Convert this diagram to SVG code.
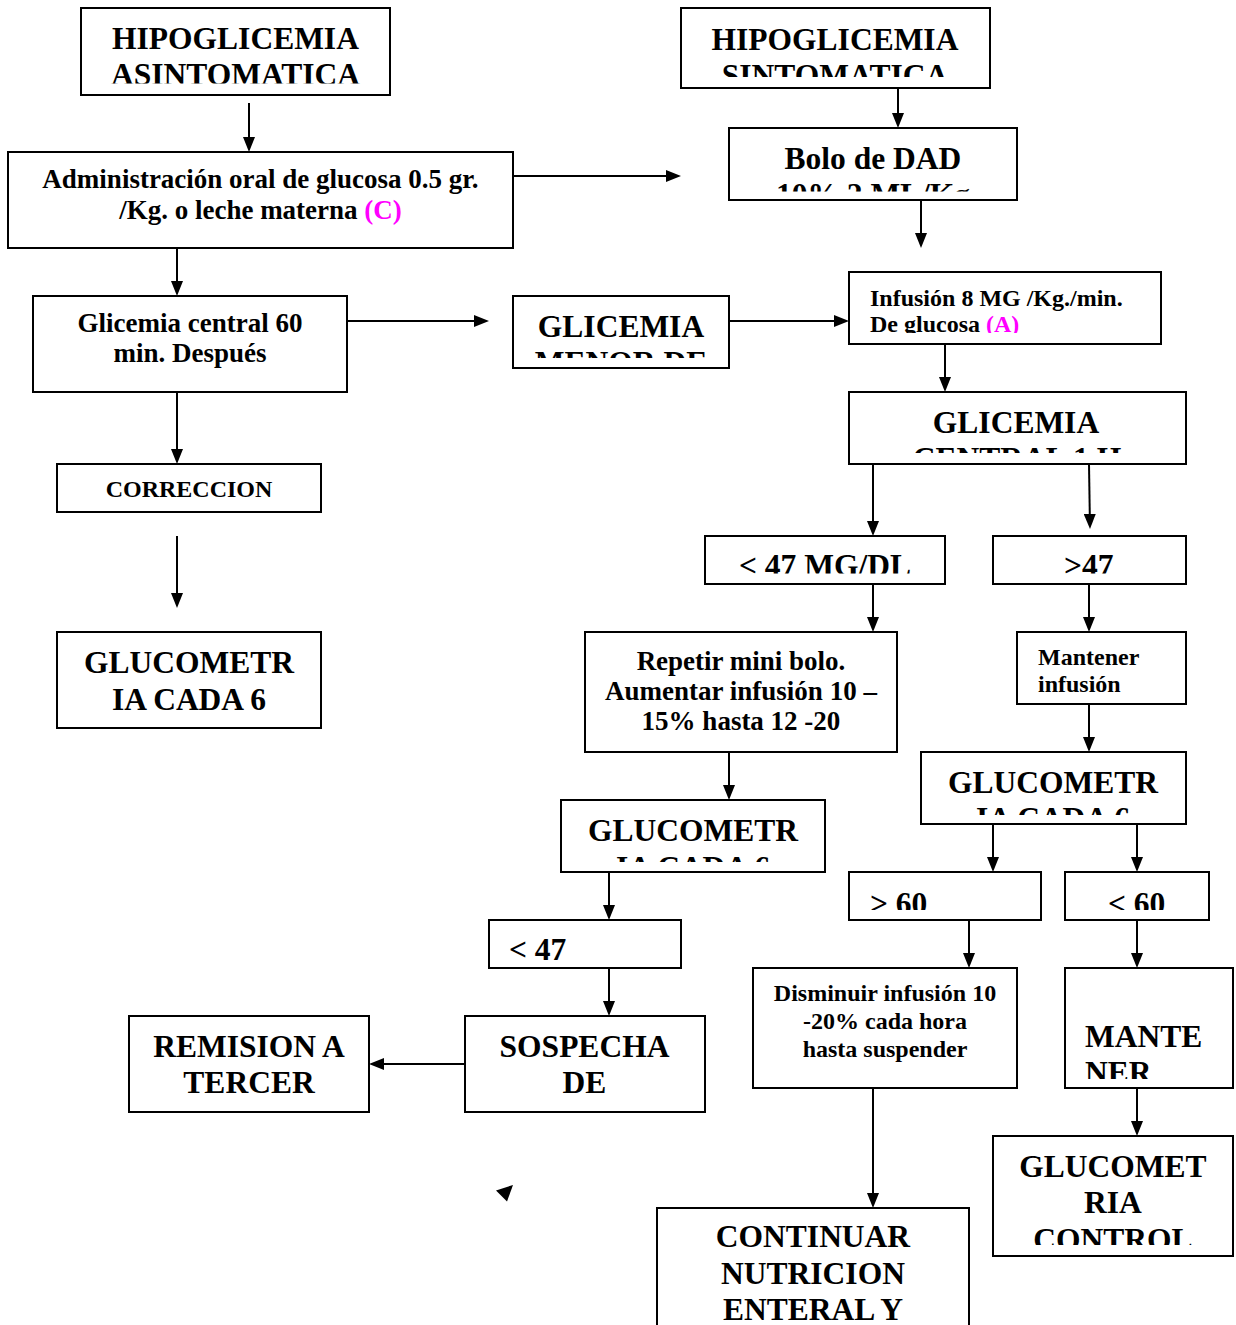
<svg xmlns="http://www.w3.org/2000/svg" width="1236" height="1325" viewBox="0 0 1236 1325">
<style>
.box{fill:#fff;stroke:#000;stroke-width:2}
.t{font-family:"Liberation Serif","Times New Roman",serif;font-weight:bold;fill:#000}
.xl{font-size:31.5px}.m{font-size:27px}.s{font-size:24px}
.c{text-anchor:middle}
.mag{fill:#ff00ff}
#connectors line{stroke:#000;stroke-width:2;fill:none;marker-end:url(#ah)}
</style>
<defs>
<marker id="ah" viewBox="0 0 15 12" refX="5" refY="6" markerWidth="15" markerHeight="12" markerUnits="userSpaceOnUse" orient="auto"><path d="M0,0 L15,6 L0,12 z" fill="#000"/></marker>
<clipPath id="k1"><rect x="81" y="8" width="309" height="75.5"/></clipPath>
<clipPath id="k2"><rect x="681" y="8" width="309" height="69"/></clipPath>
<clipPath id="k3"><rect x="729" y="128" width="288" height="63.5"/></clipPath>
<clipPath id="k4"><rect x="849" y="272" width="312" height="61"/></clipPath>
<clipPath id="k5"><rect x="513" y="296" width="216" height="62"/></clipPath>
<clipPath id="k6"><rect x="849" y="392" width="337" height="61"/></clipPath>
<clipPath id="k7"><rect x="705" y="536" width="240" height="37.5"/></clipPath>
<clipPath id="k8"><rect x="993" y="536" width="193" height="37.5"/></clipPath>
<clipPath id="k9"><rect x="921" y="752" width="265" height="63"/></clipPath>
<clipPath id="k10"><rect x="561" y="800" width="264" height="62"/></clipPath>
<clipPath id="k11"><rect x="849" y="872" width="192" height="38"/></clipPath>
<clipPath id="k12"><rect x="1065" y="872" width="144" height="38"/></clipPath>
<clipPath id="k13"><rect x="1065" y="968" width="168" height="111"/></clipPath>
<clipPath id="k14"><rect x="993" y="1136" width="240" height="109"/></clipPath>
</defs>
<rect x="0" y="0" width="1236" height="1325" fill="#fff"/>

<g id="connectors">
<line x1="249" y1="103" x2="249" y2="142"/>
<line x1="513" y1="176" x2="671" y2="176"/>
<line x1="898" y1="88" x2="898" y2="118"/>
<line x1="921" y1="200" x2="921" y2="238"/>
<line x1="177" y1="248" x2="177" y2="286"/>
<line x1="347" y1="321" x2="479" y2="321"/>
<line x1="729" y1="321" x2="839" y2="321"/>
<line x1="945" y1="344" x2="945" y2="382"/>
<line x1="177" y1="392" x2="177" y2="454"/>
<line x1="177" y1="536" x2="177" y2="598"/>
<line x1="873" y1="464" x2="873" y2="526"/>
<line x1="1089" y1="464" x2="1089.85" y2="519"/>
<line x1="873" y1="584" x2="873" y2="622"/>
<line x1="1089" y1="584" x2="1089" y2="622"/>
<line x1="729" y1="752" x2="729" y2="790"/>
<line x1="1089" y1="704" x2="1089" y2="742"/>
<line x1="993" y1="824" x2="993" y2="862"/>
<line x1="1137" y1="824" x2="1137" y2="862"/>
<line x1="609" y1="872" x2="609" y2="910"/>
<line x1="969" y1="920" x2="969" y2="958"/>
<line x1="1137" y1="920" x2="1137" y2="958"/>
<line x1="609" y1="968" x2="609" y2="1006"/>
<line x1="465" y1="1064" x2="379" y2="1064"/>
<line x1="873" y1="1088" x2="873" y2="1198"/>
<line x1="1137" y1="1088" x2="1137" y2="1126"/>
<polygon points="496,1190.5 513,1185 507,1201.5" fill="#000"/>
</g>

<g id="n_asintomatica">
<rect class="box" x="81" y="8" width="309" height="87"/>
<g clip-path="url(#k1)"><text class="t xl c" x="235.5" y="48.5">HIPOGLICEMIA</text><text class="t xl c" x="235.5" y="85">ASINTOMATICA</text></g>
</g>
<g id="n_sintomatica">
<rect class="box" x="681" y="8" width="309" height="80"/>
<g clip-path="url(#k2)"><text class="t xl c" x="835" y="49.5">HIPOGLICEMIA</text><text class="t xl c" x="835" y="86">SINTOMATICA</text></g>
</g>
<g id="n_bolo">
<rect class="box" x="729" y="128" width="288" height="72"/>
<g clip-path="url(#k3)"><text class="t xl c" x="873" y="168.5">Bolo de DAD</text><text class="t xl c" x="873" y="205">10% 2 ML/Kg</text></g>
</g>
<g id="n_oral">
<rect class="box" x="8" y="152" width="505" height="96"/>
<text class="t m c" x="260.5" y="188.3">Administración oral de glucosa 0.5 gr.</text>
<text class="t m c" x="260.5" y="219.3">/Kg. o leche materna <tspan class="mag">(C)</tspan></text>
</g>
<g id="n_infusion">
<rect class="box" x="849" y="272" width="312" height="72"/>
<g clip-path="url(#k4)"><text class="t s" x="870" y="305.5">Infusión 8 MG /Kg./min.</text><text class="t s" x="870" y="332">De glucosa <tspan class="mag">(A)</tspan></text></g>
</g>
<g id="n_glic60">
<rect class="box" x="33" y="296" width="314" height="96"/>
<text class="t m c" x="190" y="331.7">Glicemia central 60</text>
<text class="t m c" x="190" y="361.7">min. Después</text>
</g>
<g id="n_menor">
<rect class="box" x="513" y="296" width="216" height="72"/>
<g clip-path="url(#k5)"><text class="t xl c" x="621" y="337">GLICEMIA</text><text class="t xl c" x="621" y="373.4">MENOR DE</text></g>
</g>
<g id="n_central1h">
<rect class="box" x="849" y="392" width="337" height="72"/>
<g clip-path="url(#k6)"><text class="t xl c" x="1016" y="432.5">GLICEMIA</text><text class="t xl c" x="1017" y="469">CENTRAL 1 H</text></g>
</g>
<g id="n_correccion">
<rect class="box" x="57" y="464" width="264" height="48"/>
<text class="t s c" x="189" y="497">CORRECCION</text>
</g>
<g id="n_lt47mg">
<rect class="box" x="705" y="536" width="240" height="48"/>
<g clip-path="url(#k7)"><text class="t xl" x="739" y="576">&lt; 47 MG/DL</text></g>
</g>
<g id="n_gt47">
<rect class="box" x="993" y="536" width="193" height="48"/>
<g clip-path="url(#k8)"><text class="t xl" x="1064" y="576">&gt;47</text></g>
</g>
<g id="n_gluco_left">
<rect class="box" x="57" y="632" width="264" height="96"/>
<text class="t xl c" x="189" y="673">GLUCOMETR</text>
<text class="t xl c" x="189" y="709.5">IA CADA 6</text>
</g>
<g id="n_repetir">
<rect class="box" x="585" y="632" width="312" height="120"/>
<text class="t m c" x="741" y="669.5">Repetir mini bolo.</text>
<text class="t m c" x="741" y="699.5">Aumentar infusión 10 –</text>
<text class="t m c" x="741" y="729.5">15% hasta 12 -20</text>
</g>
<g id="n_mantener_inf">
<rect class="box" x="1017" y="632" width="169" height="72"/>
<text class="t s" x="1038" y="665">Mantener</text>
<text class="t s" x="1038" y="692">infusión</text>
</g>
<g id="n_gluco_right">
<rect class="box" x="921" y="752" width="265" height="72"/>
<g clip-path="url(#k9)"><text class="t xl c" x="1053" y="792.7">GLUCOMETR</text><text class="t xl c" x="1053" y="829">IA CADA 6</text></g>
</g>
<g id="n_gluco_mid">
<rect class="box" x="561" y="800" width="264" height="72"/>
<g clip-path="url(#k10)"><text class="t xl c" x="693" y="841">GLUCOMETR</text><text class="t xl c" x="693" y="877.5">IA CADA 6</text></g>
</g>
<g id="n_gt60">
<rect class="box" x="849" y="872" width="192" height="48"/>
<g clip-path="url(#k11)"><text class="t xl" x="870" y="914">&gt; 60</text></g>
</g>
<g id="n_lt60">
<rect class="box" x="1065" y="872" width="144" height="48"/>
<g clip-path="url(#k12)"><text class="t xl" x="1108" y="914">&lt; 60</text></g>
</g>
<g id="n_lt47">
<rect class="box" x="489" y="920" width="192" height="48"/>
<text class="t xl" x="509" y="959.5">&lt; 47</text>
</g>
<g id="n_disminuir">
<rect class="box" x="753" y="968" width="264" height="120"/>
<text class="t s c" x="885" y="1001">Disminuir infusión 10</text>
<text class="t s c" x="885" y="1029">-20%  cada hora</text>
<text class="t s c" x="885" y="1057">hasta suspender</text>
</g>
<g id="n_mantener">
<rect class="box" x="1065" y="968" width="168" height="120"/>
<g clip-path="url(#k13)"><text class="t xl" x="1085" y="1046.7">MANTE</text><text class="t xl" x="1085" y="1083">NER</text></g>
</g>
<g id="n_sospecha">
<rect class="box" x="465" y="1016" width="240" height="96"/>
<text class="t xl c" x="584.5" y="1056.7">SOSPECHA</text>
<text class="t xl c" x="584.5" y="1093.3">DE</text>
</g>
<g id="n_remision">
<rect class="box" x="129" y="1016" width="240" height="96"/>
<text class="t xl c" x="249" y="1056.7">REMISION A</text>
<text class="t xl c" x="249" y="1093.3">TERCER</text>
</g>
<g id="n_gluco_control">
<rect class="box" x="993" y="1136" width="240" height="120"/>
<g clip-path="url(#k14)"><text class="t xl c" x="1113" y="1176.7">GLUCOMET</text><text class="t xl c" x="1113" y="1213.3">RIA</text><text class="t xl c" x="1113" y="1250">CONTROL</text></g>
</g>
<g id="n_continuar">
<rect class="box" x="657" y="1208" width="312" height="140"/>
<text class="t xl c" x="813" y="1247">CONTINUAR</text>
<text class="t xl c" x="813" y="1283.5">NUTRICION</text>
<text class="t xl c" x="813" y="1319.5">ENTERAL Y</text>
</g>
</svg>
